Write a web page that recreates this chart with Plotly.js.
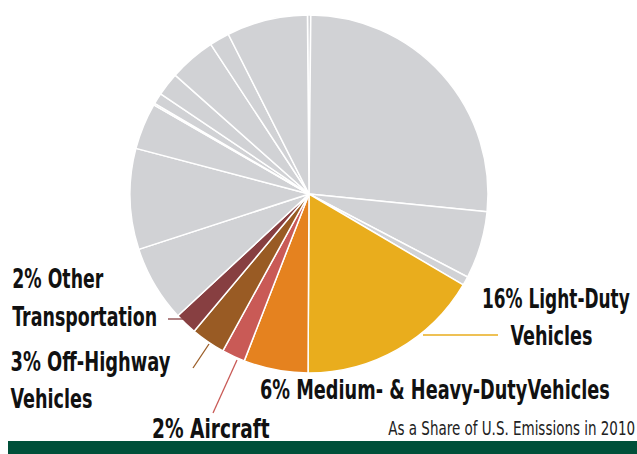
<!DOCTYPE html>
<html>
<head>
<meta charset="utf-8">
<script src="https://cdn.plot.ly/plotly-3.0.1.min.js"></script>
<style>html,body{margin:0;padding:0;background:#fff}#chart{width:637px;height:454px}</style>
</head>
<body>
<div id="chart"></div>
<script>
// Slices clockwise from 12 o'clock (share of U.S. emissions, %)
const categories = [
  "Other 1", "Other 2", "Other 3", "Other 4",
  "Light-Duty Vehicles", "Medium- & Heavy-Duty Vehicles", "Aircraft",
  "Off-Highway Vehicles", "Other Transportation",
  "Other 5", "Other 6", "Other 7", "Other 8", "Other 9", "Other 10",
  "Other 11", "Other 12", "Other 13"
];
const shares = [0.3, 26.4, 6.1, 0.8, 16.6, 5.8, 2.1, 3.1, 2.0, 6.9, 9.1, 4.2, 0.15, 1.0, 2.1, 4.2, 1.8, 7.3];
const sliceColors = [
  "#d1d2d5", "#d1d2d5", "#d1d2d5", "#d1d2d5",
  "#e9ad1d", "#e5821f", "#c95a56", "#995b24", "#873f41",
  "#d1d2d5", "#d1d2d5", "#d1d2d5", "#d1d2d5", "#d1d2d5", "#d1d2d5",
  "#d1d2d5", "#d1d2d5", "#d1d2d5"
];
const labelTexts = [
  "2% Other", "Transportation", "3% Off-Highway", "Vehicles",
  "2% Aircraft", "6% Medium- & Heavy-DutyVehicles", "16% Light-Duty", "Vehicles"
];
const note = "As a Share of U.S. Emissions in 2010";

// layout of the labels (centre x, centre y, drawn width in px)
const labelBoxes = [
  [57.5, 278, 91], [84.5, 316, 145], [90, 361, 160], [51, 398, 82],
  [211, 428, 118], [435, 389, 350], [556, 298, 148], [551, 335, 82]
];
const noteBox = [511.5, 428, 247];

const W = 637, H = 454;
const px = x => x / W, py = y => 1 - y / H;
const boldFont = {family: "'DejaVu Sans Condensed', 'DejaVu Sans', sans-serif", size: 27, color: "#111", weight: 700};
const noteFont = {family: "'DejaVu Sans Condensed', 'DejaVu Sans', sans-serif", size: 20, color: "#222"};

const annotations = labelTexts.map((t, i) => ({
  text: t, x: px(labelBoxes[i][0]), y: py(labelBoxes[i][1]), xref: "paper", yref: "paper",
  xanchor: "center", yanchor: "middle", showarrow: false, font: boldFont
}));
annotations.push({
  text: note, x: px(noteBox[0]), y: py(noteBox[1]), xref: "paper", yref: "paper",
  xanchor: "center", yanchor: "middle", showarrow: false, font: noteFont
});
const boxes = labelBoxes.concat([noteBox]);

function seg(x0, y0, x1, y1, color) {
  return {type: "line", xref: "paper", yref: "paper", x0: px(x0), y0: py(y0), x1: px(x1), y1: py(y1),
          line: {color: color, width: 1.3}};
}
const shapes = [
  seg(423, 335, 498, 335, "#e9ad1d"),
  seg(168, 319, 183, 319, "#873f41"),
  seg(193, 368, 209, 344, "#995b24"),
  seg(213, 413, 237, 360, "#c95a56"),
  {type: "rect", xref: "paper", yref: "paper", x0: px(8), x1: px(640), y0: py(441), y1: py(458),
   fillcolor: "#00503a", line: {width: 0}}
];

const trace = {
  type: "pie",
  labels: categories,
  values: shares,
  sort: false,
  direction: "clockwise",
  rotation: -0.5,
  marker: {colors: sliceColors, line: {color: "#ffffff", width: 1.5}},
  textinfo: "none",
  hoverinfo: "label+percent",
  showlegend: false,
  domain: {x: [px(130), px(488)], y: [py(373), py(15)]}
};

Plotly.newPlot("chart", [trace], {
  width: W, height: H,
  margin: {l: 0, r: 0, t: 0, b: 0},
  paper_bgcolor: "#fff",
  showlegend: false,
  annotations: annotations,
  shapes: shapes
}, {displayModeBar: false, staticPlot: true}).then(gd => {
  // condense each label horizontally (about its centre) to match the narrow typeface of the original
  gd.querySelectorAll("g.annotation").forEach(g => {
    const i = +g.getAttribute("data-index");
    const grp = g.querySelector("g.annotation-text-g");
    const t = g.querySelector("text.annotation-text");
    if (!grp || !t || !boxes[i]) return;
    const natural = t.getBBox().width;
    if (!natural) return;
    const k = boxes[i][2] / natural;
    const cx = boxes[i][0];
    const prev = grp.getAttribute("transform") || "";
    grp.setAttribute("transform", prev + " translate(" + cx + ",0) scale(" + k + ",1) translate(" + (-cx) + ",0)");
  });
});
</script>
</body>
</html>
